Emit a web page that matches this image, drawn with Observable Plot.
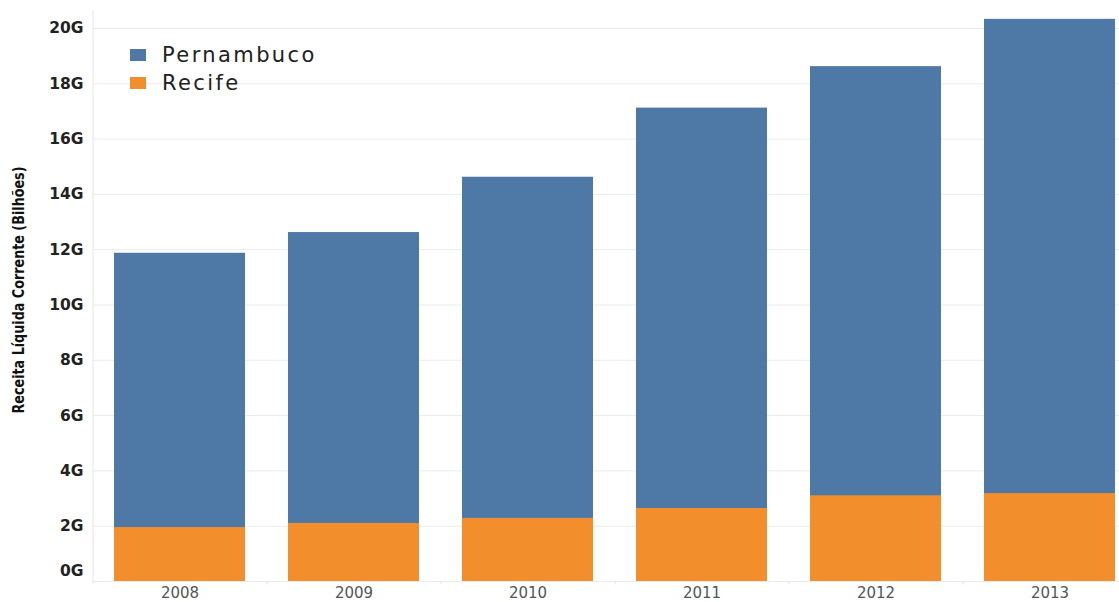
<!DOCTYPE html>
<html>
<head>
<meta charset="utf-8">
<script src="https://cdn.jsdelivr.net/npm/d3@7"></script>
<script src="https://cdn.jsdelivr.net/npm/@observablehq/plot@0.6"></script>
<style>
  html, body { margin: 0; padding: 0; background: #fff; overflow: hidden; }
  #wrap { position: relative; width: 1119px; height: 602px; }
  .legend { position: absolute; left: 130px; top: 41px; font-family: "DejaVu Sans", sans-serif; font-size: 21px; letter-spacing: 2.4px; color: #222; }
  .legend div { display: flex; align-items: center; height: 28px; }
  .legend span.sw { display: inline-block; width: 16px; height: 12px; margin-right: 16px; }
</style>
</head>
<body>
<div id="wrap"></div>
<script>
const years = ["2008", "2009", "2010", "2011", "2012", "2013"];
const pernambuco = [11.87, 12.62, 14.62, 17.12, 18.62, 20.33];
const recife = [1.95, 2.1, 2.28, 2.64, 3.1, 3.18];
const series = ["Pernambuco", "Recife"];
const colors = ["#4e79a7", "#f28e2b"];
const yTicks = [2, 4, 6, 8, 10, 12, 14, 16, 18, 20];
const yTitle = "Receita Líquida Corrente (Bilhões)";

const rows = [];
years.forEach((yr, i) => {
  rows.push({year: yr, series: series[0], value: pernambuco[i]});
  rows.push({year: yr, series: series[1], value: recife[i]});
});

const halfStep = 87;
const yMax = 20.65;
const tickFont = {fontFamily: "DejaVu Sans", fontSize: 15.5, fontWeight: "bold", fill: "#222", style: "letter-spacing:2.4px"};

const chart = Plot.plot({
  width: 1119,
  height: 602,
  marginTop: 10,
  marginBottom: 21,
  marginLeft: 93,
  marginRight: 0,
  x: {domain: years, range: [93, 1137], paddingInner: 0.247, paddingOuter: 0.1235, axis: null},
  y: {domain: [0, yMax], axis: null},
  color: {domain: series, range: colors},
  style: {background: "#fff"},
  marks: [
    Plot.gridY([0, ...yTicks], {stroke: "#ebebeb", strokeOpacity: 1}),
    Plot.ruleX([years[0]], {x: d => d, dx: -halfStep, y1: -0.1, y2: yMax, stroke: "#e6e6e6"}),
    Plot.ruleX(years.slice(1), {x: d => d, dx: -halfStep, y1: -0.12, y2: 0, stroke: "#e0e0e0"}),
    Plot.barY(rows.filter(d => d.series === series[0]), {x: "year", y1: 0, y2: "value", fill: "series", inset: 0}),
    Plot.barY(rows.filter(d => d.series === series[1]), {x: "year", y1: 0, y2: "value", fill: "series", inset: 0}),
    Plot.axisY(yTicks, {tickSize: 0, tickPadding: 10, tickFormat: d => d + "G", label: null, ...tickFont}),
    Plot.axisY([0], {tickSize: 0, tickPadding: 10, tickFormat: d => d + "G", label: null, dy: -10, ...tickFont}),
    Plot.axisX(years, {tickSize: 0, tickPadding: 6, label: null,
      fontFamily: "DejaVu Sans", fontSize: 15, fill: "#555", style: "letter-spacing:2px"}),
    Plot.text([yTitle], {frameAnchor: "left", rotate: -90, dx: -75, dy: -6, text: d => d, textAnchor: "middle",
      fontFamily: "DejaVu Sans", fontSize: 16, fontWeight: "bold", fill: "#111", style: "font-stretch: condensed"})
  ]
});

d3.select(chart).selectAll('g[aria-label="text"] text')
  .attr("textLength", 247)
  .attr("lengthAdjust", "spacingAndGlyphs");

const wrap = document.getElementById("wrap");
wrap.appendChild(chart);

const legend = document.createElement("div");
legend.className = "legend";
series.forEach((s, i) => {
  const row = document.createElement("div");
  const sw = document.createElement("span");
  sw.className = "sw";
  sw.style.background = colors[i];
  row.appendChild(sw);
  row.appendChild(document.createTextNode(s));
  legend.appendChild(row);
});
wrap.appendChild(legend);
</script>
</body>
</html>
